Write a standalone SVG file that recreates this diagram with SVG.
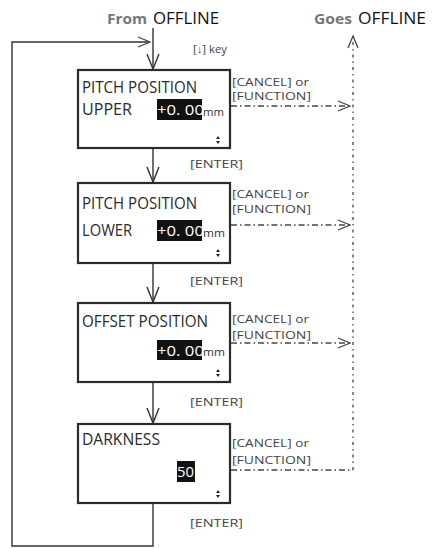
<svg xmlns="http://www.w3.org/2000/svg" width="432" height="548" viewBox="0 0 432 548">
<defs>
<style>
.box{fill:#fff;stroke:#2a2a2a;stroke-width:2.2}
.t{font-family:"Open Sans","Noto Sans",sans-serif;font-size:16px;fill:#2a2a2a}
.fld{fill:#111}
.ft{font-family:"Open Sans","Noto Sans",sans-serif;font-size:15px;fill:#fff}
.mm{font-family:"Open Sans","Noto Sans",sans-serif;font-size:11px;fill:#333}
.lbl{font-family:"Open Sans","Noto Sans",sans-serif;font-size:11px;fill:#444}
.hd{font-family:"Open Sans","Noto Sans",sans-serif;font-size:16px;fill:#111}
.gr{font-family:"Open Sans","Noto Sans",sans-serif;font-size:14px;font-weight:bold;fill:#777}
.sol{fill:none;stroke:#333;stroke-width:1.4}
.dd{fill:none;stroke:#444;stroke-width:1.3;stroke-dasharray:6 3 1.5 3}
.dv{fill:none;stroke:#444;stroke-width:1.3;stroke-dasharray:3 4 1.5 4}
.sym{fill:#222}
</style>
<marker id="v" markerUnits="userSpaceOnUse" markerWidth="18" markerHeight="14" refX="16" refY="7" orient="auto">
<path d="M1,1 L16,7 L1,13" fill="none" stroke="#333" stroke-width="1.4"/>
</marker>
<marker id="h" markerUnits="userSpaceOnUse" markerWidth="14" markerHeight="12" refX="13" refY="6" orient="auto">
<path d="M1,1 L13,6 L1,11" fill="none" stroke="#444" stroke-width="1.3"/>
</marker>
</defs>
<rect width="432" height="548" fill="#fff"/>

<g id="headers">
<text class="gr" x="107" y="24" textLength="40" lengthAdjust="spacingAndGlyphs">From</text>
<text class="hd" x="153" y="24" textLength="66" lengthAdjust="spacingAndGlyphs">OFFLINE</text>
<text class="gr" x="314" y="24" textLength="38" lengthAdjust="spacingAndGlyphs">Goes</text>
<text class="hd" x="358" y="24" textLength="68" lengthAdjust="spacingAndGlyphs">OFFLINE</text>
<text class="lbl" x="193" y="53" font-size="9.5" textLength="34" lengthAdjust="spacingAndGlyphs">[↓] key</text>
</g>

<g id="connectors">
<path class="sol" d="M153,28 V69" marker-end="url(#v)"/>
<path class="sol" d="M153,149 V182" marker-end="url(#v)"/>
<path class="sol" d="M153,264 V302" marker-end="url(#v)"/>
<path class="sol" d="M153,383 V423" marker-end="url(#v)"/>
<path class="sol" d="M153,504 V546 H12 V42 H150" marker-end="url(#h)"/>
<path class="dd" d="M231,106 H350" marker-end="url(#h)"/>
<path class="dd" d="M231,225 H350" marker-end="url(#h)"/>
<path class="dd" d="M231,343 H350" marker-end="url(#h)"/>
<path class="dd" d="M231,470 H353"/>
<path class="dv" d="M353,470 V36" marker-end="url(#h)"/>
</g>

<g id="node1">
<rect class="box" x="78" y="70" width="152" height="78"/>
<text class="t" x="82" y="93" textLength="115" lengthAdjust="spacingAndGlyphs">PITCH POSITION</text>
<text class="t" x="82" y="115" textLength="50" lengthAdjust="spacingAndGlyphs">UPPER</text>
<rect class="fld" x="157" y="99" width="45" height="21"/>
<text class="ft" x="157" y="115" textLength="47" lengthAdjust="spacingAndGlyphs">+0. 00</text>
<text class="mm" x="203" y="116" textLength="21" lengthAdjust="spacingAndGlyphs">mm</text>
<path class="sym" d="M216,139 L218,136 L220,139 Z M216,141 L218,144 L220,141 Z"/>
<text class="lbl" x="232" y="86" textLength="77" lengthAdjust="spacingAndGlyphs">[CANCEL] or</text>
<text class="lbl" x="232" y="100" textLength="79" lengthAdjust="spacingAndGlyphs">[FUNCTION]</text>
<text class="lbl" x="190" y="168" textLength="53" lengthAdjust="spacingAndGlyphs">[ENTER]</text>
</g>

<g id="node2">
<rect class="box" x="78" y="183" width="152" height="80"/>
<text class="t" x="82" y="209" textLength="115" lengthAdjust="spacingAndGlyphs">PITCH POSITION</text>
<text class="t" x="82" y="236" textLength="50" lengthAdjust="spacingAndGlyphs">LOWER</text>
<rect class="fld" x="157" y="220" width="45" height="21"/>
<text class="ft" x="157" y="236" textLength="47" lengthAdjust="spacingAndGlyphs">+0. 00</text>
<text class="mm" x="203" y="237" textLength="22" lengthAdjust="spacingAndGlyphs">mm</text>
<path class="sym" d="M216,252 L218,249 L220,252 Z M216,254 L218,257 L220,254 Z"/>
<text class="lbl" x="232" y="198" textLength="77" lengthAdjust="spacingAndGlyphs">[CANCEL] or</text>
<text class="lbl" x="232" y="213" textLength="79" lengthAdjust="spacingAndGlyphs">[FUNCTION]</text>
<text class="lbl" x="190" y="285" textLength="53" lengthAdjust="spacingAndGlyphs">[ENTER]</text>
</g>

<g id="node3">
<rect class="box" x="78" y="303" width="152" height="79"/>
<text class="t" x="82" y="327" textLength="126" lengthAdjust="spacingAndGlyphs">OFFSET POSITION</text>
<rect class="fld" x="157" y="340" width="45" height="20"/>
<text class="ft" x="157" y="356" textLength="47" lengthAdjust="spacingAndGlyphs">+0. 00</text>
<text class="mm" x="203" y="356" textLength="22" lengthAdjust="spacingAndGlyphs">mm</text>
<path class="sym" d="M216,372 L218,369 L220,372 Z M216,374 L218,377 L220,374 Z"/>
<text class="lbl" x="232" y="323" textLength="77" lengthAdjust="spacingAndGlyphs">[CANCEL] or</text>
<text class="lbl" x="232" y="339" textLength="79" lengthAdjust="spacingAndGlyphs">[FUNCTION]</text>
<text class="lbl" x="190" y="406" textLength="53" lengthAdjust="spacingAndGlyphs">[ENTER]</text>
</g>

<g id="node4">
<rect class="box" x="78" y="424" width="152" height="79"/>
<text class="t" x="82" y="445" textLength="78" lengthAdjust="spacingAndGlyphs">DARKNESS</text>
<rect class="fld" x="177" y="461" width="18" height="21"/>
<text class="ft" x="177" y="477" textLength="17" lengthAdjust="spacingAndGlyphs">50</text>
<path class="sym" d="M216,493 L218,490 L220,493 Z M216,495 L218,498 L220,495 Z"/>
<text class="lbl" x="232" y="447" textLength="77" lengthAdjust="spacingAndGlyphs">[CANCEL] or</text>
<text class="lbl" x="232" y="464" textLength="79" lengthAdjust="spacingAndGlyphs">[FUNCTION]</text>
<text class="lbl" x="190" y="527" textLength="53" lengthAdjust="spacingAndGlyphs">[ENTER]</text>
</g>
</svg>
